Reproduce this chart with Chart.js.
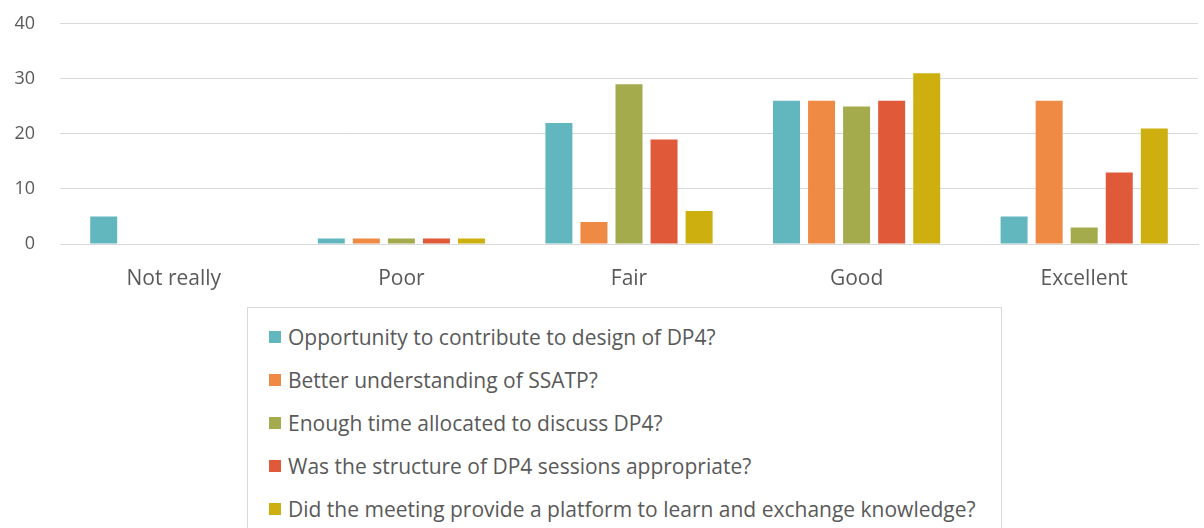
<!DOCTYPE html>
<html>
<head>
<meta charset="utf-8">
<script src="https://cdn.jsdelivr.net/npm/chart.js@4/dist/chart.umd.min.js"></script>
<style>
  html, body { margin: 0; padding: 0; background: #ffffff; }
  #wrap { position: relative; width: 1204px; height: 528px; overflow: hidden; font-family: "Open Sans", sans-serif; }
  #chartBox { position: absolute; left: 0; top: -12px; width: 1204px; height: 312px; }
  #legend {
    position: absolute; left: 247px; top: 307px; width: 755px; height: 250px;
    border: 1px solid #d9d9d9; box-sizing: border-box; padding-top: 7px;
  }
  .item { display: flex; align-items: center; height: 43px; padding-left: 21px;
          font-size: 21px; color: #595959; white-space: nowrap; }
  .swatch { width: 12px; height: 12px; margin-right: 7px; flex: none; }
</style>
</head>
<body>
<div id="wrap">
  <div id="chartBox"><canvas id="c"></canvas></div>
  <div id="legend"></div>
</div>
<script>
// Rating categories along the x axis
const categories = ["Not really", "Poor", "Fair", "Good", "Excellent"];

// Survey questions (one series each)
const seriesNames = [
  "Opportunity to contribute to design of DP4?",
  "Better understanding of SSATP?",
  "Enough time allocated to discuss DP4?",
  "Was the structure of DP4 sessions appropriate?",
  "Did the meeting provide a platform to learn and exchange knowledge?"
];

// Number of responses per rating
const contributeDesign   = [5, 1, 22, 26, 5];
const understandingSSATP = [0, 1, 4, 26, 26];
const enoughTime         = [0, 1, 29, 25, 3];
const sessionStructure   = [0, 1, 19, 26, 13];
const learnExchange      = [0, 1, 6, 31, 21];

// Y axis tick values
const yTicks = [0, 10, 20, 30, 40];

const seriesColors = ["#62b7bf", "#ef8a44", "#a3ab4c", "#e05a3a", "#cdb010"];
const seriesValues = [contributeDesign, understandingSSATP, enoughTime, sessionStructure, learnExchange];

const datasets = seriesNames.map((name, i) => ({
  label: name,
  data: seriesValues[i],
  backgroundColor: seriesColors[i],
  borderWidth: 0,
  categoryPercentage: 0.77,
  barPercentage: 0.77
}));

const chart = new Chart(document.getElementById("c"), {
  type: "bar",
  data: { labels: categories, datasets },
  options: {
    responsive: true,
    maintainAspectRatio: false,
    animation: false,
    layout: { padding: { top: 3, right: 6, bottom: 6, left: 0 } },
    plugins: { legend: { display: false }, tooltip: { enabled: false } },
    scales: {
      x: {
        grid: { display: false, drawTicks: false },
        border: { display: true, color: "#d9d9d9", width: 1 },
        ticks: { font: { family: "Open Sans", size: 21 }, color: "#595959", padding: 22 },
        afterFit: (s) => { s.height = 50; }
      },
      y: {
        min: yTicks[0],
        max: yTicks[yTicks.length - 1],
        afterBuildTicks: (s) => { s.ticks = yTicks.map(v => ({ value: v })); },
        grid: { color: "#d9d9d9", drawTicks: false },
        border: { display: false },
        ticks: { font: { family: "Open Sans", size: 18 }, color: "#595959", padding: 25 },
        afterFit: (s) => { s.width = 60; }
      }
    }
  }
});

// Legend list built from the chart's datasets
const legendEl = document.getElementById("legend");
chart.data.datasets.forEach(ds => {
  const row = document.createElement("div");
  row.className = "item";
  const sw = document.createElement("span");
  sw.className = "swatch";
  sw.style.background = ds.backgroundColor;
  const tx = document.createElement("span");
  tx.textContent = ds.label;
  row.appendChild(sw);
  row.appendChild(tx);
  legendEl.appendChild(row);
});
</script>
</body>
</html>
